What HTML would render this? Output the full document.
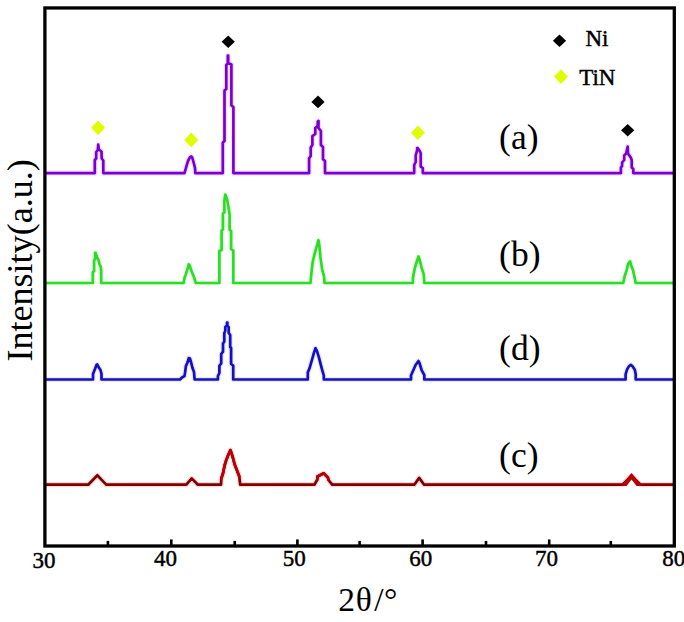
<!DOCTYPE html>
<html><head><meta charset="utf-8"><style>
html,body{margin:0;padding:0;background:#fff;}
svg{display:block;}
text{font-family:"Liberation Serif",serif;fill:#000;}
.tk{font-size:23px;stroke:#000;stroke-width:0.45px;}
.ser{font-size:35.5px;}
.leg{font-size:23px;stroke:#000;stroke-width:0.45px;}
</style></head><body>
<svg width="684" height="622" viewBox="0 0 684 622">
<g>
<rect width="684" height="622" fill="#fff"/>
<g fill="none" stroke-linejoin="round" stroke-linecap="round">
<polyline stroke="#c060e0" stroke-width="5.2" stroke-opacity="0.2" points="46,173.1 94.8,173.1 94.8,160 96.2,158.5 96.2,152 97.8,150 98.2,144.7 98.8,149.5 101.5,151.5 101.7,158.5 103.3,160.5 103.3,173.1 184.5,173.1 186.5,166 188,161 190,157.2 191.2,156.5 192.2,157.5 193.5,162 195,168 195.3,173.1 222.8,173.1 222.8,142.5 224.5,141 224.5,90.5 226.3,89 226.3,65 227.8,63.5 227.8,55.7 228.2,55.7 228.2,63 231.4,64.5 231.4,105.5 233.4,107 233.4,173.1 309.1,173.1 309.1,158.2 310.7,156 310.7,147.5 312.4,145 312.4,136.2 315.3,134 315.3,128 317.6,126 317.8,121.4 318.5,121 318.5,128 320.9,131 320.9,145 323,147 323,159.3 325,161 325,173.1 414.2,173.1 414.2,165 415.7,162 415.7,155.5 417.2,150 417.2,148.1 417.8,148.2 419.7,151 420.7,153 420.7,166.6 422.8,168 422.8,173.1 620.9,173.1 620.9,167.6 622.1,166 622.1,162.5 624.2,160 624.2,155.5 626.2,153.4 627.7,146.5 628,153.4 630.7,157.5 631.7,160 631.7,167.6 633.3,169 633.3,173.1 673,173.1"/>
<polyline stroke="#60e060" stroke-width="5.2" stroke-opacity="0.15" points="46,283 92.8,283 92.8,272.4 94.1,271 94.1,260.5 95.1,259 95.1,252.9 95.6,252.9 97.1,257.5 98.5,260 99.5,264.2 100.8,267 101.2,271 101.2,283 183.6,283 184.5,278 185.8,274.4 187.5,269 188.7,264.4 189.5,265 191.5,271 193.9,277 195.8,283 219.4,283 219.4,251 221.6,250 221.6,230.5 222.9,229.5 222.9,213.5 224.4,212.5 224.4,200 225.3,194.7 227,199 228.5,207 229.6,215 229.6,229.8 231.1,231 231.1,249 233.3,250.5 233.3,283 310.5,283 311.5,272 312.7,262 315,252.4 318.5,240.2 319.3,245 320.4,256.9 322.2,269.9 324,276 324.5,283 412.9,283 413,277.4 414.5,269.7 416.1,263.7 418.5,256.5 419.5,259 421.7,268.1 423.8,274.6 424.3,283 623.2,283 624.7,276.1 626.8,269.6 628,264 630.1,261.4 631,265 633,270.3 634.5,277 635.7,283 673,283"/>
<polyline stroke="#6060e0" stroke-width="5.2" stroke-opacity="0.15" points="46,379.5 93,379.5 93,374 95,369 96.5,365 97.3,364.5 98.8,367.5 100.5,370 101.5,374 101.5,379.5 180,379.5 182,377.5 184.5,376 185,373 185.9,366.1 187.5,362.5 188.8,358.1 190,358.5 191.2,362.8 192.5,368 194,372 194.6,379.5 217.9,379.5 217.9,376 219.4,373 219.4,365.8 221.2,363.5 221.2,354 223,351.7 223,343.5 224.3,341.5 224.3,333 225.3,331 225.3,327 227,325.5 227,322.7 227.4,322.7 227.4,326 228.7,327 228.7,333 230.2,335 230.2,347 231.1,348 231.1,364 233.2,365.5 233.2,379.5 307.8,379.5 307.8,372.5 309.6,368.1 311.1,362.9 312.6,357.7 314,352.6 315.5,348.2 317,351.1 319,357.7 320.5,363.7 322.3,370.3 323.8,375.5 323.8,379.5 411,379.5 411,375.5 413.3,370.3 415.6,365 418.5,361 419.5,363 421.7,370.3 424.3,375 424.3,379.5 625.6,379.5 625.6,374.3 627,369.7 629,366.2 630.8,364.8 632.5,366.2 634.8,369.7 635.7,374.3 635.7,379.5 673,379.5"/>
<polyline stroke="#e83030" stroke-width="5.2" stroke-opacity="0.2" points="46,484.7 88.2,484.7 97.4,475.3 106.2,484.7 186.3,484.7 191.7,478.4 197.9,484.7 221,484.7 221.3,478.7 223.1,473 224.5,465.9 226.3,459.9 228.4,454.6 230.5,450.2 232.6,456.7 234.7,464.5 237.2,470.9 239.3,476.5 240.2,484.7 314.5,484.7 317.3,479.5 317.5,476.5 323.7,473.3 327.9,477.5 328.5,480 332.2,484.7 414.3,484.7 419.2,477.9 424.1,484.7 622.5,484.7 631.5,475.7 640.5,484.7 673,484.7"/>
</g>
<g fill="none" stroke-width="2.7" stroke-linejoin="round" stroke-linecap="round">
<polyline stroke="#7a00d2" points="46,173.1 94.8,173.1 94.8,160 96.2,158.5 96.2,152 97.8,150 98.2,144.7 98.8,149.5 101.5,151.5 101.7,158.5 103.3,160.5 103.3,173.1 184.5,173.1 186.5,166 188,161 190,157.2 191.2,156.5 192.2,157.5 193.5,162 195,168 195.3,173.1 222.8,173.1 222.8,142.5 224.5,141 224.5,90.5 226.3,89 226.3,65 227.8,63.5 227.8,55.7 228.2,55.7 228.2,63 231.4,64.5 231.4,105.5 233.4,107 233.4,173.1 309.1,173.1 309.1,158.2 310.7,156 310.7,147.5 312.4,145 312.4,136.2 315.3,134 315.3,128 317.6,126 317.8,121.4 318.5,121 318.5,128 320.9,131 320.9,145 323,147 323,159.3 325,161 325,173.1 414.2,173.1 414.2,165 415.7,162 415.7,155.5 417.2,150 417.2,148.1 417.8,148.2 419.7,151 420.7,153 420.7,166.6 422.8,168 422.8,173.1 620.9,173.1 620.9,167.6 622.1,166 622.1,162.5 624.2,160 624.2,155.5 626.2,153.4 627.7,146.5 628,153.4 630.7,157.5 631.7,160 631.7,167.6 633.3,169 633.3,173.1 673,173.1"/>
<polyline stroke="#2ddc24" points="46,283 92.8,283 92.8,272.4 94.1,271 94.1,260.5 95.1,259 95.1,252.9 95.6,252.9 97.1,257.5 98.5,260 99.5,264.2 100.8,267 101.2,271 101.2,283 183.6,283 184.5,278 185.8,274.4 187.5,269 188.7,264.4 189.5,265 191.5,271 193.9,277 195.8,283 219.4,283 219.4,251 221.6,250 221.6,230.5 222.9,229.5 222.9,213.5 224.4,212.5 224.4,200 225.3,194.7 227,199 228.5,207 229.6,215 229.6,229.8 231.1,231 231.1,249 233.3,250.5 233.3,283 310.5,283 311.5,272 312.7,262 315,252.4 318.5,240.2 319.3,245 320.4,256.9 322.2,269.9 324,276 324.5,283 412.9,283 413,277.4 414.5,269.7 416.1,263.7 418.5,256.5 419.5,259 421.7,268.1 423.8,274.6 424.3,283 623.2,283 624.7,276.1 626.8,269.6 628,264 630.1,261.4 631,265 633,270.3 634.5,277 635.7,283 673,283"/>
<polyline stroke="#1410c0" points="46,379.5 93,379.5 93,374 95,369 96.5,365 97.3,364.5 98.8,367.5 100.5,370 101.5,374 101.5,379.5 180,379.5 182,377.5 184.5,376 185,373 185.9,366.1 187.5,362.5 188.8,358.1 190,358.5 191.2,362.8 192.5,368 194,372 194.6,379.5 217.9,379.5 217.9,376 219.4,373 219.4,365.8 221.2,363.5 221.2,354 223,351.7 223,343.5 224.3,341.5 224.3,333 225.3,331 225.3,327 227,325.5 227,322.7 227.4,322.7 227.4,326 228.7,327 228.7,333 230.2,335 230.2,347 231.1,348 231.1,364 233.2,365.5 233.2,379.5 307.8,379.5 307.8,372.5 309.6,368.1 311.1,362.9 312.6,357.7 314,352.6 315.5,348.2 317,351.1 319,357.7 320.5,363.7 322.3,370.3 323.8,375.5 323.8,379.5 411,379.5 411,375.5 413.3,370.3 415.6,365 418.5,361 419.5,363 421.7,370.3 424.3,375 424.3,379.5 625.6,379.5 625.6,374.3 627,369.7 629,366.2 630.8,364.8 632.5,366.2 634.8,369.7 635.7,374.3 635.7,379.5 673,379.5"/>
<polyline stroke="#7e0004" points="46,484.7 88.2,484.7 97.4,475.3 106.2,484.7 186.3,484.7 191.7,478.4 197.9,484.7 221,484.7 221.3,478.7 223.1,473 224.5,465.9 226.3,459.9 228.4,454.6 230.5,450.2 232.6,456.7 234.7,464.5 237.2,470.9 239.3,476.5 240.2,484.7 314.5,484.7 317.3,479.5 317.5,476.5 323.7,473.3 327.9,477.5 328.5,480 332.2,484.7 414.3,484.7 419.2,477.9 424.1,484.7 622.5,484.7 631.5,475.7 640.5,484.7 673,484.7"/>
<polyline stroke="#b80008" points="97.4,475.3"/><polyline stroke="#b80008" points="191.7,478.4"/><polyline stroke="#b80008" points="221.3,478.7 223.1,473 224.5,465.9 226.3,459.9 228.4,454.6 230.5,450.2 232.6,456.7 234.7,464.5 237.2,470.9 239.3,476.5"/><polyline stroke="#b80008" points="317.3,479.5 317.5,476.5 323.7,473.3 327.9,477.5 328.5,480"/><polyline stroke="#b80008" points="419.2,477.9"/>
</g>
<path d="M621.3,485.9 L631.5,472.9 L642.1,485.9 L636.6,485.9 L631.5,479.6 L626.6,485.9 Z" fill="#b80008"/>
<polygon points="221.6,41.7 228.2,35.4 234.8,41.7 228.2,48" fill="#000"/><polygon points="311.4,101.9 318,95.6 324.6,101.9 318,108.2" fill="#000"/><polygon points="621.1,130.2 627.7,123.9 634.3,130.2 627.7,136.5" fill="#000"/><polygon points="552.9,40.8 559.5,34.5 566.1,40.8 559.5,47.1" fill="#000"/><polygon points="91.1,127.8 98.1,120.5 105.1,127.8 98.1,135.1" fill="#e0fc00"/><polygon points="184.3,139.9 191.3,132.6 198.3,139.9 191.3,147.2" fill="#e0fc00"/><polygon points="410.9,132.7 417.9,125.4 424.9,132.7 417.9,140" fill="#e0fc00"/><polygon points="554,76.6 561,69.3 568,76.6 561,83.9" fill="#e0fc00"/>
<rect x="44.9" y="7.95" width="629.4" height="538.05" fill="none" stroke="#000" stroke-width="3.3"/>
<line x1="107.9" y1="546" x2="107.9" y2="540.9" stroke="#000" stroke-width="2.6"/><line x1="234.7" y1="546" x2="234.7" y2="540.9" stroke="#000" stroke-width="2.6"/><line x1="359.6" y1="546" x2="359.6" y2="540.9" stroke="#000" stroke-width="2.6"/><line x1="486" y1="546" x2="486" y2="540.9" stroke="#000" stroke-width="2.6"/><line x1="610.8" y1="546" x2="610.8" y2="540.9" stroke="#000" stroke-width="2.6"/><line x1="171.3" y1="546" x2="171.3" y2="539.4" stroke="#000" stroke-width="2.6"/><line x1="297.4" y1="546" x2="297.4" y2="539.4" stroke="#000" stroke-width="2.6"/><line x1="422.6" y1="546" x2="422.6" y2="539.4" stroke="#000" stroke-width="2.6"/><line x1="549.2" y1="546" x2="549.2" y2="539.4" stroke="#000" stroke-width="2.6"/>
<text x="32.4" y="568" class="tk">30</text><text x="154.0" y="566.1" class="tk">40</text><text x="282.7" y="566.3" class="tk">50</text><text x="409.2" y="566.3" class="tk">60</text><text x="535.0" y="566.2" class="tk">70</text><text x="662.3" y="566.2" class="tk">80</text>
<text y="611" style="font-size:33.5px"><tspan x="338.2">2</tspan><tspan x="355.8">θ</tspan><tspan x="374.2">/</tspan><tspan x="384.0">°</tspan></text>
<text transform="translate(31.6,361.6) rotate(-90)" style="font-size:36.1px">Intensity(a.u.)</text>
<text x="585.5" y="46.4" class="leg">Ni</text>
<text x="579.2" y="84.8" class="leg">TiN</text>
<text x="499.1" y="149.05" class="ser">(a)</text>
<text x="499.1" y="265.6" class="ser">(b)</text>
<text x="499.1" y="360.4" class="ser">(d)</text>
<text x="499.1" y="467.2" class="ser">(c)</text>
</g>
</svg>
</body></html>
